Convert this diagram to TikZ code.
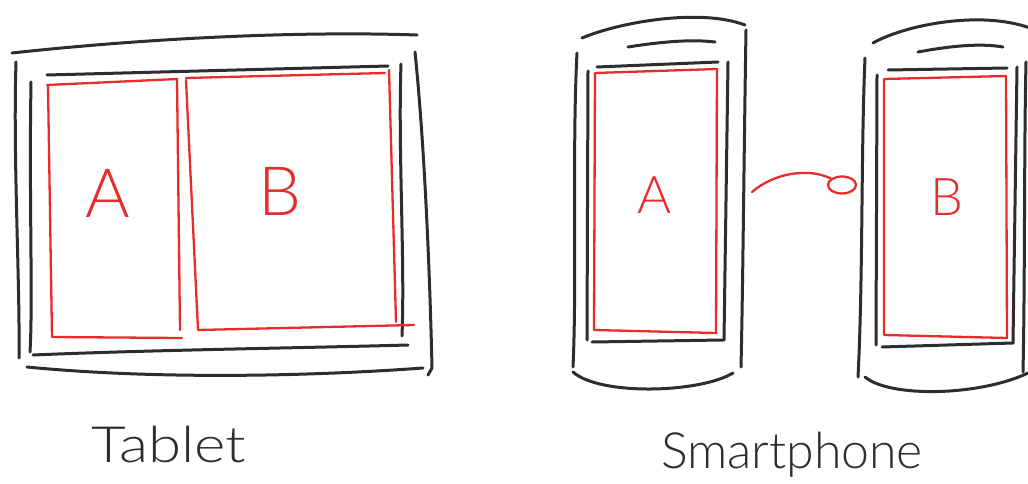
\documentclass[tikz,border=0pt]{standalone}
\usepackage{fontspec}
\setmainfont{Lato}[UprightFont=* Light]
\usepackage{tikz}
\usetikzlibrary{shapes.geometric, positioning}
\definecolor{SketchGrey}{RGB}{45, 45, 45}
\definecolor{SketchRed}{RGB}{232, 44, 44}

\begin{document}
\begin{tikzpicture}[x=1pt,y=-1pt,
  frame/.style={SketchGrey, line width=3pt, line cap=round, line join=round},
  screen/.style={SketchRed, line width=2.3pt, line cap=round, line join=round},
  panelabel/.style={SketchRed, inner sep=0pt},
  caption/.style={SketchGrey, inner sep=0pt, font=\fontsize{50}{54}\selectfont},
  linkend/.style={ellipse, draw=SketchRed, line width=2.3pt, minimum width=28pt, minimum height=17pt, inner sep=0pt}]
  \path[use as bounding box] (0,0) rectangle (1028,484);

  % Tablet
  \draw[frame] (12,53) .. controls (150,38) and (300,31) .. (417,35);
  \draw[frame] (16,62) .. controls (13,160) and (20,280) .. (19,358);
  \draw[frame] (415,52) .. controls (425,150) and (430,280) .. (432,368) -- (428,375);
  \draw[frame] (27,367) .. controls (150,379) and (300,377) .. (423,368);
  \draw[frame] (47,75) -- (388,66);
  \draw[frame] (31,82) .. controls (29,200) and (33,300) .. (30,352);
  \draw[frame] (401,64) .. controls (398,150) and (405,260) .. (402,336);
  \draw[frame] (33,355) .. controls (150,350) and (300,348) .. (408,345);
  \draw[screen] (47,85) -- (177,79) -- (180,330) (182,338) -- (52,337) -- (48,86);
  \draw[screen] (186,78) -- (385,73) (389,70) -- (396,322) (414,325) -- (198,330) -- (186,80);
  \node[panelabel, font=\fontsize{68}{68}\selectfont] (tabA) at (108,193) {A};
  \node[panelabel, font=\fontsize{68}{68}\selectfont] (tabB) at (280,191) {B};
  \node[caption, xscale=1.2] (tabletcap) at (169,445) {Tablet};

  % Smartphone A
  \draw[frame] (582,38) .. controls (620,22) and (700,8) .. (745,25);
  \draw[frame] (577,53) .. controls (572,150) and (577,280) .. (573,367);
  \draw[frame] (746,30) .. controls (744,150) and (743,280) .. (741,367);
  \draw[frame] (573,372) .. controls (600,396) and (700,393) .. (733,373);
  \draw[frame] (628,47) .. controls (660,42) and (690,39) .. (715,42);
  \draw[frame] (597,67) -- (718,62);
  \draw[frame] (588,71) -- (587,340);
  \draw[frame] (728,62) -- (724,340);
  \draw[frame] (592,342) -- (723,340);
  \draw[screen] (595,73) -- (717,69) -- (716,333) -- (594,330) -- cycle;
  \node[panelabel, font=\fontsize{52}{52}\selectfont] (phoneA) at (655,195) {A};

  % Smartphone B
  \draw[frame] (873,43) .. controls (905,25) and (980,10) .. (1030,28);
  \draw[frame] (865,58) .. controls (861,150) and (863,280) .. (858,377);
  \draw[frame] (1026,62) .. controls (1024,150) and (1025,280) .. (1023,372);
  \draw[frame] (865,377) .. controls (890,398) and (980,396) .. (1028,373);
  \draw[frame] (918,52) .. controls (950,46) and (980,43) .. (1003,47);
  \draw[frame] (888,70) -- (1007,68);
  \draw[frame] (877,75) -- (876,345);
  \draw[frame] (1017,67) -- (1013,343);
  \draw[frame] (882,347) -- (1013,343);
  \draw[screen] (884,79) -- (1006,76) -- (1007,338) -- (884,335) -- cycle;
  \node[panelabel, font=\fontsize{52}{52}\selectfont] (phoneB) at (947,197) {B};
  \node[caption] (phonecap) at (792,455) {Smartphone};

  % Link from A to B
  \coordinate (linkstart) at (752,192);
  \node[linkend] (linkdot) at (842,185) {};
  \draw[screen] (linkstart) .. controls (775,172) and (810,168) .. (linkdot.150);
\end{tikzpicture}
\end{document}
